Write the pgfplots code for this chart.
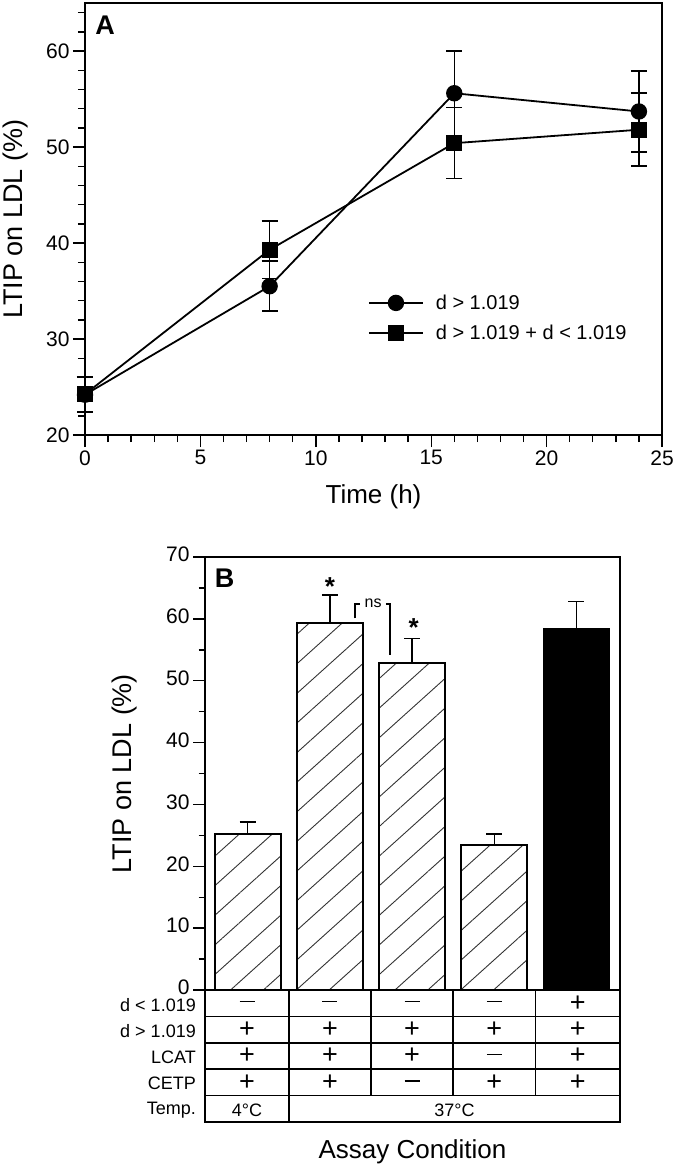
\documentclass[border=0pt]{standalone}
\usepackage{fontspec}
\setmainfont{Liberation Sans}
\usepackage{pgfplots}
\pgfplotsset{compat=1.18}
\usetikzlibrary{patterns.meta}

\begin{document}
\begin{tikzpicture}
\useasboundingbox (0pt,0pt) rectangle (674pt,-1168pt);

% ---------------- Panel A ----------------
\begin{axis}[
  name=A, at={(85pt,-435pt)}, anchor=south west,
  width=577pt, height=432pt, scale only axis,
  xmin=0, xmax=25, ymin=20, ymax=65,
  xtick={0,5,...,25}, minor xtick={0,1,...,25},
  ytick={20,30,...,60}, minor ytick={20,22,...,64},
  xtick pos=bottom, ytick pos=left,
  tick align=outside,
  major tick length=12pt, minor tick length=7pt,
  every tick/.style={black, line width=1.4pt},
  axis line style={line width=1.7pt},
  /pgf/number format/assume math mode=true,
  tick label style={font=\fontsize{21}{25}\selectfont},
  xlabel={Time (h)},
  ylabel={LTIP on LDL (\%)},
  xlabel style={font=\fontsize{26}{30}\selectfont, at={(axis description cs:0.5,-0.143)}, anchor=center},
  ylabel style={font=\fontsize{27}{31}\selectfont, at={(axis description cs:-0.121,0.5)}, anchor=center},
  legend style={at={(axis description cs:0.485,0.334)}, anchor=north west, draw=none, fill=none,
    font=\fontsize{20}{24}\selectfont, row sep=10pt,
    /tikz/every odd column/.append style={column sep=10pt}},
  legend cell align=left,
  legend image code/.code={\draw[mark repeat=2,mark phase=2,#1] plot coordinates {(0pt,0pt) (27pt,0pt) (54pt,0pt)};},
  clip=false,
]
\addplot[black, line width=1.8pt, mark=*, mark size=7.3pt, mark options={fill=black, solid},
  error bars/.cd, y dir=both, y explicit,
  error bar style={line width=1.5pt, black},
  error mark options={rotate=90, mark size=8pt, line width=1.5pt, black}]
  coordinates {(0,24.2) +- (0,1.85) (8,35.5) +- (0,2.6) (16,55.6) +- (0,4.4) (24,53.7) +- (0,4.2)};
\addplot[black, line width=1.8pt, mark=square*, mark size=7.2pt, mark options={fill=black, solid},
  error bars/.cd, y dir=both, y explicit,
  error bar style={line width=1.5pt, black},
  error mark options={rotate=90, mark size=8pt, line width=1.5pt, black}]
  coordinates {(0,24.25) +- (0,1.85) (8,39.3) +- (0,3.0) (16,50.4) +- (0,3.7) (24,51.8) +- (0,3.8)};
\legend{d > 1.019, d > 1.019 + d < 1.019}
\node[font=\fontsize{27}{31}\selectfont\bfseries] at (axis description cs:0.035,0.949) {A};
\end{axis}

% ---------------- Panel B ----------------
\begin{axis}[
  name=B, at={(205pt,-990pt)}, anchor=south west,
  width=415pt, height=433pt, scale only axis,
  xmin=-0.52, xmax=4.53, ymin=0, ymax=70,
  xtick=\empty,
  ytick={0,10,...,70}, minor ytick={5,15,...,65},
  ytick pos=left, tick align=outside,
  major tick length=12pt, minor tick length=6.5pt,
  every tick/.style={black, line width=1.4pt},
  axis line style={line width=1.7pt},
  /pgf/number format/assume math mode=true,
  tick label style={font=\fontsize{21}{25}\selectfont},
  yticklabel style={yshift=2.5pt},
  ylabel={LTIP on LDL (\%)},
  ylabel style={font=\fontsize{27}{31}\selectfont, at={(axis description cs:-0.193,0.5)}, anchor=center},
  xlabel={Assay Condition},
  xlabel style={font=\fontsize{26}{30}\selectfont, at={(axis description cs:0.5,-0.374)}, anchor=center},
  ybar, bar width=66pt, bar shift=0pt,
  clip=false,
]
\addplot[draw=black, line width=1.8pt,
  pattern={Lines[angle=42,distance=22pt,line width=0.9pt]}, pattern color=black!80,
  error bars/.cd, y dir=plus, y explicit,
  error bar style={line width=1.5pt, black},
  error mark options={rotate=90, mark size=8pt, line width=1.5pt, black}]
  coordinates {(0,25.2) +- (0,2.0) (1,59.3) +- (0,4.6) (2,52.9) +- (0,3.9) (3,23.4) +- (0,1.8)};
\addplot[draw=black, fill=black, line width=1.8pt,
  error bars/.cd, y dir=plus, y explicit,
  error bar style={line width=1.5pt, black},
  error mark options={rotate=90, mark size=8pt, line width=1.5pt, black}]
  coordinates {(4,58.3) +- (0,4.5)};
% annotations
\node[font=\fontsize{26}{30}\selectfont\bfseries] at (axis cs:1.0,65.3) {*};
\node[font=\fontsize{26}{30}\selectfont\bfseries] at (axis cs:2.02,58.6) {*};
\draw[line width=1.3pt] (axis cs:1.305,60.1) -- (axis cs:1.305,62.4) -- (axis cs:1.366,62.4);
\draw[line width=1.3pt] (axis cs:1.682,62.4) -- (axis cs:1.731,62.4) -- (axis cs:1.731,54.2);
\node[font=\fontsize{16}{19}\selectfont, inner sep=0pt] at (axis cs:1.525,62.5) {ns};
\node[font=\fontsize{27}{31}\selectfont\bfseries] at (axis description cs:0.047,0.951) {B};
\end{axis}

% ---------------- Condition table ----------------
\begin{scope}[line width=1.6pt]
\draw (205pt,-990pt) rectangle (620pt,-1122pt);
\foreach \yy in {-1016.4,-1042.8,-1069.2,-1095.6} \draw (205pt,\yy pt) -- (620pt,\yy pt);
\foreach \xx in {371.0,453.2,535.4} \draw (\xx pt,-990pt) -- (\xx pt,-1095.6pt);
\draw (288.8pt,-990pt) -- (288.8pt,-1122pt);
\end{scope}
\begin{scope}[font=\fontsize{18}{21}\selectfont, every node/.style={inner sep=0pt}]
\node[anchor=east] at (196pt,-1004.7pt) {d < 1.019};
\node[anchor=east] at (196pt,-1030.6pt) {d > 1.019};
\node[anchor=east] at (196pt,-1057.0pt) {LCAT};
\node[anchor=east] at (196pt,-1083.4pt) {CETP};
\node[anchor=east] at (196pt,-1109.8pt) {Temp.};
\node at (247pt,-1109.8pt) {4°C};
\node at (454.5pt,-1109.8pt) {37°C};
\end{scope}
\newcommand{\mns}{\rule[8.6pt]{15pt}{1.7pt}}
\begin{scope}[font=\fontsize{27}{31}\selectfont, every node/.style={inner sep=0pt}]
% columns: 247, 329.9, 412.1, 494.3, 577.7
\foreach \xx/\a/\b/\c/\d in {247/\mns/+/+/+, 329.9/\mns/+/+/+, 412.1/\mns/+/+/\mns, 494.3/\mns/+/\mns/+, 577.7/+/+/+/+} {
  \node at (\xx pt,-1003.2pt) {\vphantom{+}\a};
  \node at (\xx pt,-1029.6pt) {\vphantom{+}\b};
  \node at (\xx pt,-1056.0pt) {\vphantom{+}\c};
  \node at (\xx pt,-1082.4pt) {\vphantom{+}\d};
}
\end{scope}
\end{tikzpicture}
\end{document}
